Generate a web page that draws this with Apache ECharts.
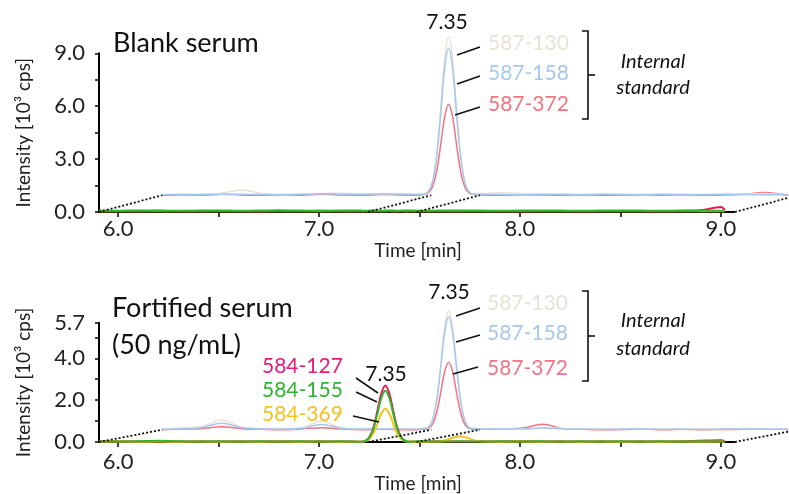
<!DOCTYPE html>
<html>
<head>
<meta charset="utf-8">
<title>Chromatogram</title>
<script src="https://cdn.jsdelivr.net/npm/echarts@6/dist/echarts.min.js"></script>
<style>
  html, body { margin: 0; padding: 0; background: #fff; }
  #chart { width: 789px; height: 494px; }
</style>
</head>
<body>
<div id="chart"></div>
<script>
// retention time [min], sampled closer around the peak
let times = [5.905, 6.0, 6.1, 6.2, 6.3, 6.4, 6.5, 6.6, 6.7, 6.8, 6.9, 7.0, 7.1, 7.17,
  7.21, 7.23, 7.25, 7.27, 7.29, 7.31, 7.33, 7.35, 7.37, 7.39, 7.41, 7.43, 7.45,
  7.5, 7.6, 7.7, 7.8, 7.9, 8.0, 8.1, 8.2, 8.3, 8.4, 8.5, 8.6, 8.7, 8.8, 8.9, 9.0, 9.02]

// blank serum, internal standard (back traces) [10^3 cps]
let blankIS130 = [0.05, 0.06, 0.08, 0.12, 0.30, 0.10, 0.06, 0.08, 0.10, 0.12, 0.08, 0.07, 0.10, 0.06,
  0.08, 0.24, 0.81, 2.29, 4.89, 7.75, 9.00, 7.75, 4.89, 2.29, 0.81, 0.24, 0.08,
  0.10, 0.14, 0.08, 0.06, 0.08, 0.05, 0.07, 0.05, 0.06, 0.05, 0.04, 0.06, 0.05, 0.06, 0.10, 0.05, 0.05]
let blankIS158 = [0.03, 0.04, 0.03, 0.05, 0.06, 0.04, 0.03, 0.05, 0.08, 0.06, 0.04, 0.09, 0.05, 0.04,
  0.07, 0.21, 0.75, 2.12, 4.52, 7.16, 8.33, 7.16, 4.52, 2.12, 0.75, 0.21, 0.07,
  0.05, 0.04, 0.03, 0.05, 0.04, 0.03, 0.06, 0.04, 0.03, 0.05, 0.04, 0.03, 0.05, 0.04, 0.03, 0.04, 0.03]
let blankIS372 = [0.00, 0.02, 0.00, 0.06, 0.02, 0.00, 0.03, 0.00, 0.05, 0.02, 0.00, 0.04, 0.01, 0.00,
  0.05, 0.15, 0.48, 1.32, 2.82, 4.43, 5.16, 4.43, 2.82, 1.32, 0.48, 0.15, 0.05,
  0.02, 0.00, 0.03, 0.01, 0.00, 0.02, 0.00, 0.01, 0.03, 0.00, 0.02, 0.00, 0.01, 0.06, 0.15, 0.03, 0.00]
// blank serum, analyte (front traces)
let blank127 = [0.05, 0.06, 0.04, 0.07, 0.05, 0.04, 0.06, 0.05, 0.04, 0.06, 0.05, 0.07, 0.05, 0.04,
  0.05, 0.04, 0.06, 0.05, 0.04, 0.05, 0.06, 0.05, 0.04, 0.05, 0.06, 0.04, 0.05,
  0.06, 0.05, 0.04, 0.06, 0.05, 0.04, 0.05, 0.06, 0.04, 0.05, 0.06, 0.05, 0.04, 0.06, 0.10, 0.28, 0.10]
let blank155 = [0.08, 0.07, 0.09, 0.08, 0.07, 0.08, 0.09, 0.07, 0.08, 0.10, 0.08, 0.07, 0.08, 0.09,
  0.08, 0.07, 0.08, 0.09, 0.08, 0.07, 0.08, 0.09, 0.08, 0.07, 0.08, 0.09, 0.08,
  0.07, 0.08, 0.09, 0.08, 0.07, 0.08, 0.09, 0.08, 0.07, 0.08, 0.09, 0.08, 0.07, 0.08, 0.08, 0.07, 0.08]
let blank369 = [0.04, 0.04, 0.05, 0.04, 0.04, 0.05, 0.04, 0.04, 0.05, 0.04, 0.04, 0.05, 0.04, 0.04,
  0.04, 0.05, 0.04, 0.04, 0.05, 0.04, 0.04, 0.05, 0.04, 0.04, 0.05, 0.04, 0.04,
  0.05, 0.04, 0.04, 0.05, 0.04, 0.04, 0.05, 0.04, 0.04, 0.05, 0.04, 0.04, 0.05, 0.04, 0.04, 0.05, 0.04]

// fortified serum (50 ng/mL), internal standard
let fortIS130 = [0.05, 0.08, 0.15, 0.46, 0.12, 0.06, 0.05, 0.10, 0.40, 0.08, 0.05, 0.06, 0.05, 0.04,
  0.07, 0.12, 0.48, 1.41, 3.06, 4.87, 5.68, 4.87, 3.06, 1.41, 0.48, 0.12, 0.07,
  0.05, 0.06, 0.05, 0.10, 0.06, 0.05, 0.04, 0.05, 0.06, 0.04, 0.05, 0.04, 0.05, 0.06, 0.05, 0.04, 0.05]
let fortIS158 = [0.02, 0.05, 0.10, 0.31, 0.10, 0.04, 0.03, 0.07, 0.25, 0.06, 0.03, 0.04, 0.03, 0.02,
  0.06, 0.11, 0.46, 1.34, 2.91, 4.62, 5.39, 4.62, 2.91, 1.34, 0.46, 0.11, 0.06,
  0.03, 0.04, 0.03, 0.08, 0.04, 0.03, 0.02, 0.03, 0.04, 0.02, 0.03, 0.02, 0.03, 0.04, 0.03, 0.02, 0.03]
let fortIS372 = [0.00, 0.03, 0.05, 0.14, 0.05, 0.02, 0.00, 0.04, 0.10, 0.03, 0.00, 0.02, 0.00, 0.00,
  0.03, 0.07, 0.27, 0.80, 1.74, 2.77, 3.23, 2.77, 1.74, 0.80, 0.27, 0.07, 0.03,
  0.02, 0.03, 0.08, 0.26, 0.05, 0.02, 0.00, 0.01, 0.03, 0.00, 0.02, 0.00, 0.01, 0.02, 0.04, 0.02, 0.00]
// fortified serum, analyte
let fort127 = [0.02, 0.03, 0.02, 0.04, 0.02, 0.03, 0.02, 0.03, 0.02, 0.04, 0.02, 0.03, 0.02, 0.02,
  0.01, 0.06, 0.23, 0.67, 1.46, 2.31, 2.70, 2.31, 1.46, 0.67, 0.23, 0.06, 0.01,
  0.02, 0.03, 0.02, 0.03, 0.02, 0.04, 0.02, 0.03, 0.02, 0.03, 0.02, 0.03, 0.02, 0.04, 0.06, 0.08, 0.04]
let fort155 = [0.03, 0.02, 0.03, 0.06, 0.03, 0.02, 0.03, 0.02, 0.03, 0.02, 0.03, 0.02, 0.03, 0.02,
  0.01, 0.05, 0.21, 0.61, 1.32, 2.10, 2.45, 2.10, 1.32, 0.61, 0.21, 0.05, 0.01,
  0.03, 0.02, 0.03, 0.02, 0.03, 0.02, 0.03, 0.02, 0.03, 0.02, 0.03, 0.02, 0.03, 0.02, 0.03, 0.02, 0.03]
let fort369 = [0.01, 0.02, 0.01, 0.02, 0.01, 0.02, 0.01, 0.02, 0.01, 0.02, 0.01, 0.02, 0.01, 0.01,
  0.01, 0.03, 0.14, 0.40, 0.86, 1.36, 1.59, 1.36, 0.86, 0.40, 0.14, 0.03, 0.01,
  0.01, 0.02, 0.27, 0.03, 0.01, 0.02, 0.01, 0.02, 0.01, 0.02, 0.01, 0.02, 0.01, 0.02, 0.01, 0.02, 0.01]

// axis ticks / labels
let timeTicks = [6.0, 6.5, 7.0, 7.5, 8.0, 8.5, 9.0]
let timeLabels = [6.0, 7.0, 8.0, 9.0]
let blankTicks = [0, 1.5, 3.0, 4.5, 6.0, 7.5, 9.0]
let blankLabels = [0, 3.0, 6.0, 9.0]
let fortTicks = [0, 1, 2, 3, 4, 5, 5.7]
let fortLabels = [0, 2.0, 4.0, 5.7]

// time range of the front axis, and the edges of the integration window;
// each is joined front -> back by a dotted line
let timeStart = 5.905
let timeEnd = 9.07
let gridEnd = 9.339   // right edge of the picture
let windowEdges = [timeStart, 7.244, 7.486, timeEnd]

// back traces are shifted right and up (pseudo 3D)
let shiftX = 0.315
let shiftYBlank = 0.95
let shiftYFort = 0.586

let colors = {
  is130: '#e6e3d6',
  is158: '#a6c8ee',
  is372: '#f27382',
  a127: '#e8194e',
  a155: '#2db52d',
  a369: '#f5c21c'
}

let font = 'Lato, "Open Sans", sans-serif'

function trace(grid, values, color, dy, width) {
  let data = times.map((t, i) => dy ? [t + shiftX, values[i] + dy] : [t, values[i]])
  return {
    type: 'line',
    xAxisIndex: grid,
    yAxisIndex: grid,
    data: data,
    smooth: 0.35,
    symbol: 'none',
    clip: false,
    silent: true,
    lineStyle: { color: color, width: width }
  }
}

function dotted(grid, dy) {
  return windowEdges.map(t => {
    // stop at the picture edge, keeping the slope
    let end = Math.min(t + shiftX, gridEnd)
    return {
      type: 'line',
      xAxisIndex: grid,
      yAxisIndex: grid,
      data: [[t, 0], [end, dy * (end - t) / shiftX]],
      symbol: 'none',
      clip: false,
      silent: true,
      z: 3,
      lineStyle: { color: '#111', width: 1.8, type: [2, 2] }
    }
  })
}

// the front time axis stops at timeEnd while the grid runs on for the back traces
function baseLine(grid) {
  return {
    type: 'line',
    xAxisIndex: grid,
    yAxisIndex: grid,
    data: [[timeStart, 0], [timeEnd, 0]],
    symbol: 'none',
    silent: true,
    z: 1,
    lineStyle: { color: '#000', width: 2 }
  }
}

function timeAxis(grid, labelMargin, nameGap) {
  return {
    type: 'value',
    gridIndex: grid,
    min: timeStart,
    max: gridEnd,
    name: 'Time [min]',
    nameLocation: 'middle',
    nameGap: nameGap,
    nameTextStyle: { fontFamily: font, fontSize: 19, color: '#222', padding: [0, 52, 0, 0] },
    axisLine: { show: false },
    axisTick: { show: true, customValues: timeTicks, length: 5, lineStyle: { color: '#000', width: 1.5 } },
    axisLabel: {
      customValues: timeLabels, margin: labelMargin,
      formatter: v => v.toFixed(1),
      fontFamily: font, fontSize: 22, color: '#222'
    },
    splitLine: { show: false }
  }
}

function intensityAxis(grid, max, ticks, labels) {
  return {
    type: 'value',
    gridIndex: grid,
    min: 0,
    max: max,
    name: 'Intensity [10³ cps]',
    nameLocation: 'middle',
    nameGap: 66,
    nameTextStyle: { fontFamily: font, fontSize: 19, color: '#222' },
    axisLine: { show: true, lineStyle: { color: '#000', width: 2 } },
    axisTick: { show: true, customValues: ticks, length: 4, lineStyle: { color: '#000', width: 1.5 } },
    axisLabel: {
      customValues: labels, margin: 14,
      formatter: v => v.toFixed(1),
      fontFamily: font, fontSize: 22, color: '#222'
    },
    splitLine: { show: false }
  }
}

function text(x, y, str, color, size, extra) {
  return {
    type: 'text', x: x, y: y, z: 10, silent: true,
    style: Object.assign({
      text: str, fill: color, font: size + 'px ' + font,
      textAlign: 'left', textVerticalAlign: 'middle'
    }, extra || {})
  }
}

function tick(x1, y1, x2, y2) {
  return {
    type: 'line', z: 10, silent: true,
    shape: { x1: x1, y1: y1, x2: x2, y2: y2 },
    style: { stroke: '#111', lineWidth: 1.6 }
  }
}

function bracket(top, bottom, mid) {
  return [
    {
      type: 'polyline', z: 10, silent: true,
      shape: { points: [[582, top], [588, top], [588, bottom], [582, bottom]] },
      style: { stroke: '#111', lineWidth: 1.6, fill: null }
    },
    tick(588, mid, 595, mid)
  ]
}

let series = [
  baseLine(0),
  trace(0, blankIS372, colors.is372, shiftYBlank, 1.5),
  trace(0, blankIS130, colors.is130, shiftYBlank, 1.5),
  trace(0, blankIS158, colors.is158, shiftYBlank, 1.5),
  trace(0, blank369, colors.a369, 0, 2),
  trace(0, blank127, colors.a127, 0, 2),
  trace(0, blank155, colors.a155, 0, 2),
  baseLine(1),
  trace(1, fortIS372, colors.is372, shiftYFort, 1.5),
  trace(1, fortIS130, colors.is130, shiftYFort, 1.5),
  trace(1, fortIS158, colors.is158, shiftYFort, 1.5),
  trace(1, fort127, colors.a127, 0, 2),
  trace(1, fort369, colors.a369, 0, 2),
  trace(1, fort155, colors.a155, 0, 2)
].concat(dotted(0, shiftYBlank), dotted(1, shiftYFort))

let italic = 'italic 20px ' + font
let graphics = [
  // top panel
  text(113, 43, 'Blank serum', '#111', 27),
  text(447, 22, '7.35', '#111', 21, { textAlign: 'center' }),
  text(488, 43, '587-130', colors.is130, 21),
  text(488, 73, '587-158', colors.is158, 21),
  text(488, 104, '587-372', colors.is372, 21),
  tick(457, 55, 480, 47),
  tick(457, 84, 480, 76),
  tick(455, 115, 480, 107),
  text(653, 62, 'Internal', '#111', 20, { textAlign: 'center', font: italic }),
  text(653, 88, 'standard', '#111', 20, { textAlign: 'center', font: italic }),
  // bottom panel
  text(112, 308, 'Fortified serum', '#111', 27),
  text(112, 345, '(50 ng/mL)', '#111', 27),
  text(449, 292, '7.35', '#111', 21, { textAlign: 'center' }),
  text(487, 303, '587-130', colors.is130, 21),
  text(487, 333, '587-158', colors.is158, 21),
  text(487, 368, '587-372', colors.is372, 21),
  tick(456, 316, 480, 308),
  tick(456, 342, 480, 335),
  tick(453, 374, 478, 367),
  text(653, 321, 'Internal', '#111', 20, { textAlign: 'center', font: italic }),
  text(653, 349, 'standard', '#111', 20, { textAlign: 'center', font: italic }),
  text(262, 366, '584-127', '#e6197a', 21),
  text(262, 390, '584-155', colors.a155, 21),
  text(262, 414, '584-369', colors.a369, 21),
  text(386, 374, '7.35', '#111', 21, { textAlign: 'center' }),
  tick(356, 378, 378, 393),
  tick(356, 392, 377, 402),
  tick(353, 416, 379, 422)
].concat(bracket(31, 119, 75), bracket(291, 381, 336))

let chart = echarts.init(document.getElementById('chart'), null, { renderer: 'canvas' })
// the grid runs to the right edge so the shifted back traces reach it
chart.setOption({
  backgroundColor: '#fff',
  animation: false,
  grid: [
    { left: 99, right: 0, top: 53.3, bottom: 282 },
    { left: 99, right: 0, top: 322.7, bottom: 40.5 }
  ],
  xAxis: [timeAxis(0, 6, 11), timeAxis(1, 9, 32)],
  yAxis: [
    intensityAxis(0, 9, blankTicks, blankLabels),
    intensityAxis(1, 5.7, fortTicks, fortLabels)
  ],
  series: series,
  graphic: graphics
})
</script>
</body>
</html>
